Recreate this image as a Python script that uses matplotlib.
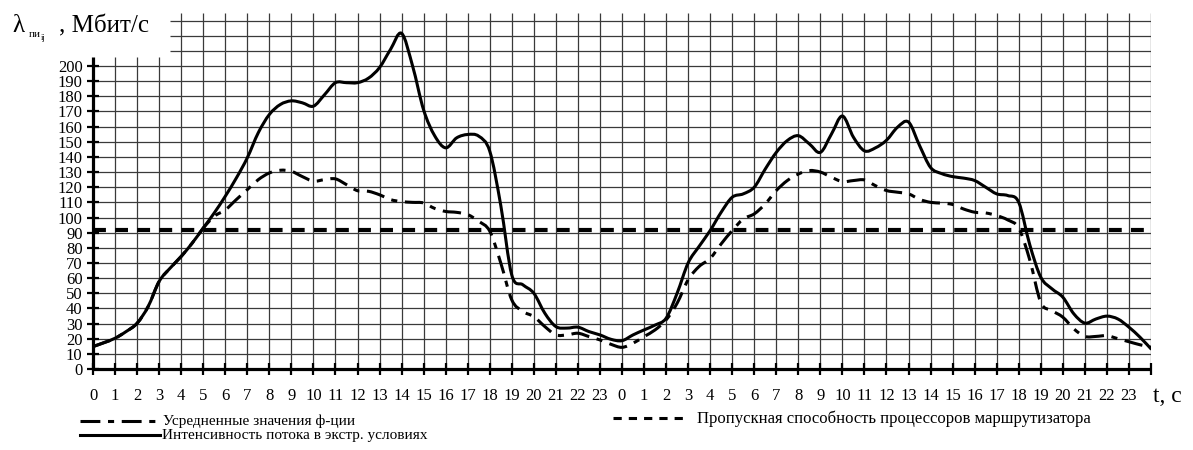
import numpy as np
import matplotlib
matplotlib.use("Agg")
import matplotlib.pyplot as plt
from matplotlib.lines import Line2D
from matplotlib.path import Path
from matplotlib.patches import PathPatch

plt.rcParams['font.family'] = ['Liberation Serif', 'DejaVu Serif']

# ---------------- data ----------------
t_pos = np.arange(0, 48.5, 0.5)          # time positions (two days of 24 s)
x_tick_labels = [str(h) for h in range(24)] * 2 + ['']
y_ticks = list(range(0, 201, 10))

intensity = [14.8, 17.4, 20.3, 24.7, 30.2, 41.2, 57.8, 66.6, 74.3, 83.1,
             93, 103, 114, 126, 139.4, 156, 168, 174.6, 177, 175.7,
             173.5, 181, 189, 189, 189, 192, 199, 211, 221.6, 200,
             171, 154, 146, 152.6, 154.8, 153.7, 143.8, 108, 62, 55.6,
             50, 36.8, 28, 27, 27.6, 24.7, 22.5, 19.6, 18.7, 22.5,
             25.8, 29, 33.5, 50, 70, 81, 91.4, 103.5, 113.4, 115.6,
             120, 132, 143, 150.8, 154, 148.6, 143, 155, 167, 153,
             144, 146, 151, 159.6, 163, 147.5, 133, 129, 127, 126,
             124.4, 120, 115.6, 114.5, 110, 82, 60.6, 53, 47.4, 36.4,
             30.3, 33, 34.9, 33, 27.6, 21, 13.3]

averaged = [14.8, 17.4, 20.3, 24.7, 30.2, 41.2, 57.8, 66.6, 74.3, 83.1,
            93, 100.8, 105, 111.8, 118.4, 125, 129.4, 131.2, 130.5, 127,
            124, 125, 125.5, 121.7, 117.7, 117.3, 115, 111.8, 110.5, 110,
            109.6, 106, 104, 103.4, 101.9, 97.5, 91, 70, 45.6, 38,
            34.6, 28, 22.5, 22.5, 23.6, 21.4, 19.2, 16.3, 14.3, 17,
            21.4, 25.8, 32.4, 43.4, 58.9, 67.7, 73, 82.6, 91.4, 99,
            102.4, 109, 117.8, 124.4, 128.7, 131, 130, 126.6, 123.7, 124.4,
            124.8, 121, 117.8, 116.7, 115.6, 112, 110, 109.5, 108.6, 105.6,
            103.5, 103, 101.3, 98.4, 93, 72, 44, 38.6, 34.2, 26.5,
            21.5, 21.5, 22, 20, 18, 16, 14.4]

capacity = 92

label_avg = "Усредненные значения ф-ции"
label_int = "Интенсивность потока в экстр. условиях"
label_cap = "Пропускная способность процессоров маршрутизатора"


def smooth_path(x, y):
    """Bezier path passing through every data point (Catmull-Rom tangents)."""
    pts = np.column_stack([np.asarray(x, float), np.asarray(y, float)])
    n = len(pts)
    verts = [pts[0]]
    codes = [Path.MOVETO]
    for i in range(n - 1):
        p0 = pts[i - 1] if i > 0 else pts[i]
        p1 = pts[i]
        p2 = pts[i + 1]
        p3 = pts[i + 2] if i + 2 < n else pts[i + 1]
        c1 = p1 + (p2 - p0) / 6.0
        c2 = p2 - (p3 - p1) / 6.0
        verts += [c1, c2, p2]
        codes += [Path.CURVE4] * 3
    return Path(verts, codes)


# ---------------- figure ----------------
W, H = 1193, 450
fig = plt.figure(figsize=(W / 100, H / 100), dpi=100)
fig.patch.set_facecolor('white')
ax = fig.add_axes([93 / W, 81 / H, 1058 / W, 356 / H])
ax.set_xlim(0, 48)
ax.set_ylim(0, 235)
for s in ax.spines.values():
    s.set_visible(False)

gcol = '#3a3a3a'
glw = 0.9
for k in range(1, 49):
    top = 206 if k <= 3 else 235
    ax.vlines(k, 0, top, colors=gcol, lw=glw, zorder=1)
for v in range(10, 231, 10):
    x0 = 0 if v <= 200 else 3.5
    ax.hlines(v, x0, 48, colors=gcol, lw=glw, zorder=1)

# axes lines
ax.plot([0, 48], [0, 0], color='black', lw=2.3, clip_on=False, zorder=5,
        solid_capstyle='butt')
ax.plot([0, 0], [0, 206], color='black', lw=2.3, clip_on=False, zorder=5,
        solid_capstyle='butt')

# curves
ax.add_patch(PathPatch(smooth_path(t_pos, intensity), fill=False,
                       edgecolor='black', lw=2.2, zorder=4,
                       joinstyle='round', capstyle='round'))
ax.add_patch(PathPatch(smooth_path(t_pos, averaged), fill=False,
                       edgecolor='black', lw=2.2, zorder=3,
                       linestyle=(0, (6, 2.5, 2, 2.5))))
ax.plot([0, 48], [capacity, capacity], color='black', lw=3.0, zorder=3,
        linestyle=(0, (3.1, 2.2)))

# ticks
ax.set_xticks(range(0, 49))
ax.set_xticklabels(x_tick_labels)
ax.set_yticks(y_ticks)
ax.set_yticklabels([str(v) for v in y_ticks])
ax.tick_params(axis='both', direction='inout', length=9, width=1.6,
               labelsize=12, colors='black')
ax.tick_params(axis='y', pad=3)
ax.tick_params(axis='x', pad=9)


def fx(px):
    return px / W


def fy(py):
    return 1 - py / H


# y-axis label
fig.text(fx(12), fy(32), "λ", fontsize=18, va='baseline', ha='left')
fig.text(fx(29), fy(37), "пи", fontsize=8, va='baseline', ha='left')
fig.text(fx(41), fy(40), "ij", fontsize=6, va='baseline', ha='left')
fig.text(fx(59), fy(32), ", Мбит/с", fontsize=18, va='baseline', ha='left')

# x-axis label
fig.text(fx(1153), fy(402), "t, с", fontsize=17, va='baseline', ha='left')

# legend
fig.add_artist(Line2D([fx(80), fx(160)], [fy(421), fy(421)], color='black',
                      lw=2.2, linestyle=(0, (6.5, 2.5, 2, 2.5))))
fig.text(fx(163), fy(421), label_avg, fontsize=11, va='center', ha='left')
fig.add_artist(Line2D([fx(80), fx(160)], [fy(435), fy(435)], color='black',
                      lw=2.2))
fig.text(fx(162), fy(435), label_int, fontsize=11, va='center', ha='left')
fig.add_artist(Line2D([fx(613), fx(683)], [fy(418), fy(418)], color='black',
                      lw=2.2, linestyle=(0, (2.7, 2.3))))
fig.text(fx(697), fy(419), label_cap, fontsize=12, va='center', ha='left')

fig.savefig("out.png", dpi=100, facecolor='white')
